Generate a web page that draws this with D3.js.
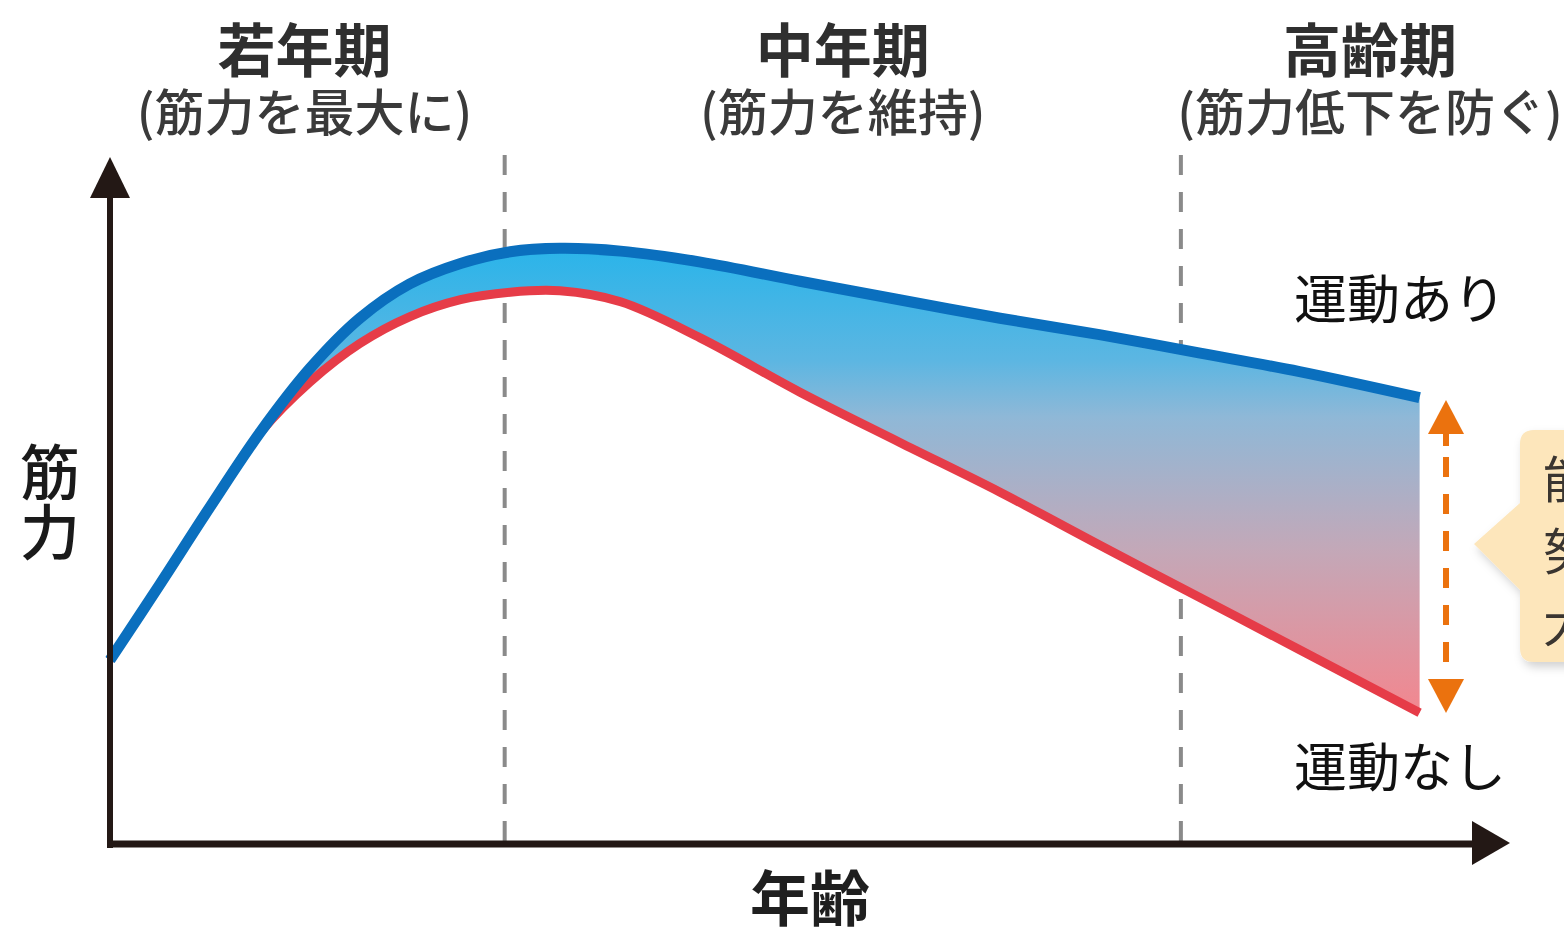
<!DOCTYPE html>
<html><head><meta charset="utf-8">
<script src="https://cdn.jsdelivr.net/npm/d3@7"></script>
<style>
html,body{margin:0;padding:0;background:#fff;}
svg{display:block;}
text{font-family:"Noto Sans CJK JP","Noto Sans",sans-serif;}
</style></head>
<body>
<script>
// ---- data ----
const ages = [0, 3.6, 7.2, 10.9, 14.5, 18.1, 21.7, 25.4, 29.0, 32.6, 37.0, 42.8, 50.0, 57.2, 64.5, 71.7, 79.0, 86.2, 94.9];
const withExercise    = [27.0, 38.0, 49.2, 60.3, 69.6, 76.9, 81.9, 84.9, 86.6, 87.1, 86.7, 85.1, 82.3, 79.6, 76.9, 74.5, 71.8, 69.1, 65.3];
const withoutExercise = [27.0, 38.0, 49.2, 60.2, 67.6, 73.2, 77.1, 79.6, 80.7, 80.9, 79.3, 74.0, 66.1, 58.8, 51.5, 43.8, 36.1, 28.5, 19.3];
const periodBounds = [28.6, 77.6];
const periodTitles = ["若年期", "中年期", "高齢期"];
const periodSubs = ["(筋力を最大に)", "(筋力を維持)", "(筋力低下を防ぐ)"];
const periodCenters = [14.1, 53.1, 91.3];
const seriesLabels = ["運動あり", "運動なし"];
const calloutLines = ["能力の", "努力で", "大きな差"];
const yLabel = "筋力", xLabel = "年齢";

const W = 1564, H = 930;
const x = d3.scaleLinear().domain([0, 100]).range([110, 1490]);
const y = d3.scaleLinear().domain([0, 100]).range([845, 160]);

const svg = d3.select("body").append("svg").attr("width", W).attr("height", H);
const defs = svg.append("defs");

const grad = defs.append("linearGradient").attr("id", "gapGrad")
  .attr("gradientUnits", "userSpaceOnUse")
  .attr("x1", 0).attr("x2", 0).attr("y1", y(88)).attr("y2", y(19));
[[0, "#27b4ea"], [0.25, "#5cb6e2"], [0.37, "#8fb8d7"], [0.65, "#c3a8b8"], [1, "#f3868e"]].forEach(([o, c]) =>
  grad.append("stop").attr("offset", o).attr("stop-color", c));

const shadow = defs.append("filter").attr("id", "shadow").attr("x", "-20%").attr("y", "-20%").attr("width", "140%").attr("height", "140%");
shadow.append("feDropShadow").attr("dx", 3).attr("dy", 5).attr("stdDeviation", 5).attr("flood-color", "#000").attr("flood-opacity", 0.18);

const clip = defs.append("clipPath").attr("id", "pageClip");
clip.append("rect").attr("x", 0).attr("y", 0).attr("width", W).attr("height", H);

const pts = ages.map((a, i) => ({a, hi: withExercise[i], lo: withoutExercise[i]}));

// dashed period lines
svg.selectAll("line.period").data(periodBounds).join("line")
  .attr("class", "period")
  .attr("x1", d => x(d)).attr("x2", d => x(d))
  .attr("y1", 155).attr("y2", y(0))
  .attr("stroke", "#8a8a8a").attr("stroke-width", 4)
  .attr("stroke-dasharray", "20 17");

// gap area
const curve = d3.curveCatmullRom.alpha(0.5);
svg.append("path").datum(pts)
  .attr("d", d3.area().curve(curve).x(d => x(d.a)).y0(d => y(d.lo)).y1(d => y(d.hi)))
  .attr("fill", "url(#gapGrad)");

// lines
svg.append("path").datum(pts)
  .attr("d", d3.line().curve(curve).x(d => x(d.a)).y(d => y(d.lo)))
  .attr("fill", "none").attr("stroke", "#e63c48").attr("stroke-width", 9);
svg.append("path").datum(pts)
  .attr("d", d3.line().curve(curve).x(d => x(d.a)).y(d => y(d.hi)))
  .attr("fill", "none").attr("stroke", "#0a6fbe").attr("stroke-width", 11);

// axes
const axisColor = "#231815";
svg.append("line").attr("x1", 110).attr("x2", 110).attr("y1", y(0) + 3).attr("y2", 195)
  .attr("stroke", axisColor).attr("stroke-width", 6);
svg.append("path").attr("d", "M110,157 L130,198 L90,198 Z").attr("fill", axisColor);
svg.append("line").attr("x1", 107).attr("x2", 1476).attr("y1", 844).attr("y2", 844)
  .attr("stroke", axisColor).attr("stroke-width", 7);
svg.append("path").attr("d", "M1510,843 L1472,821 L1472,865 Z").attr("fill", axisColor);

// axis labels
svg.append("text").attr("x", 50).attr("y", 502).attr("text-anchor", "middle")
  .style("writing-mode", "vertical-rl")
  .attr("font-size", 60).attr("font-weight", 500).attr("fill", "#1a1a1a").text(yLabel);
svg.append("text").attr("x", 810).attr("y", 921).attr("text-anchor", "middle")
  .attr("font-size", 60).attr("font-weight", 700).attr("fill", "#1f1f1f").text(xLabel);

// period titles
svg.selectAll("text.ptitle").data(periodTitles).join("text")
  .attr("class", "ptitle")
  .attr("x", (d, i) => x(periodCenters[i])).attr("y", 72)
  .attr("text-anchor", "middle").attr("font-size", 58).attr("font-weight", 700)
  .attr("fill", "#2f2f2f").text(d => d);
svg.selectAll("text.psub").data(periodSubs).join("text")
  .attr("class", "psub")
  .attr("x", (d, i) => x(periodCenters[i])).attr("y", 131)
  .attr("text-anchor", "middle").attr("font-size", 50).attr("font-weight", 500)
  .attr("fill", "#3a3a3a").text(d => d);

// series labels
svg.append("text").attr("x", 1294).attr("y", 319).attr("font-size", 53)
  .attr("fill", "#111").text(seriesLabels[0]);
svg.append("text").attr("x", 1294).attr("y", 787).attr("font-size", 53)
  .attr("fill", "#111").text(seriesLabels[1]);

// orange double arrow
const ax = 1446;
const orange = "#eb720e";
svg.append("line").attr("x1", ax).attr("x2", ax).attr("y1", 445).attr("y2", 682)
  .attr("stroke", orange).attr("stroke-width", 6).attr("stroke-dasharray", "20 17")
  .attr("stroke-dashoffset", -12);
svg.append("line").attr("x1", ax).attr("x2", ax).attr("y1", 428).attr("y2", 446)
  .attr("stroke", orange).attr("stroke-width", 6);
svg.append("path").attr("d", `M${ax},400 L${ax + 18},434 L${ax - 18},434 Z`).attr("fill", orange);
svg.append("path").attr("d", `M${ax},713 L${ax + 18},679 L${ax - 18},679 Z`).attr("fill", orange);

// callout
const cg = svg.append("g").attr("clip-path", "url(#pageClip)");
cg.append("path")
  .attr("d", "M1534,430 L1600,430 L1600,662 L1534,662 Q1520,662 1520,648 L1520,590 L1474,544 L1520,503 L1520,444 Q1520,430 1534,430 Z")
  .attr("fill", "#fde6bb").attr("filter", "url(#shadow)");
cg.selectAll("text.call").data(calloutLines).join("text")
  .attr("class", "call")
  .attr("x", 1543).attr("y", (d, i) => 498 + i * 72)
  .attr("font-size", 50).attr("fill", "#3a3530").text(d => d);
</script>
</body></html>
